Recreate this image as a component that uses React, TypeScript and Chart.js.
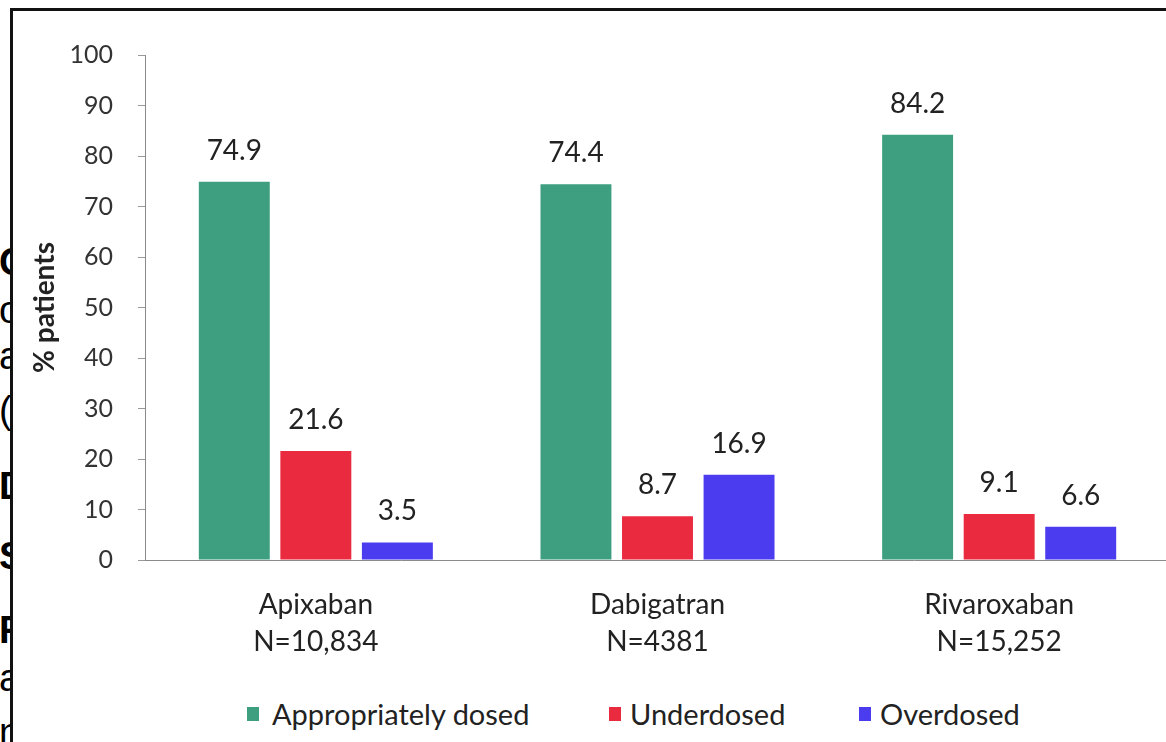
import { useEffect, useRef } from "react";
import { Chart, registerables } from "chart.js";

Chart.register(...registerables);

// Drug groups (two-line axis labels: name and cohort size)
const drugNames = ["Apixaban", "Dabigatran", "Rivaroxaban"];
const cohortSizes = ["N=10,834", "N=4381", "N=15,252"];

// Share of patients per dosing category (%)
const appropriatelyDosed = [74.9, 74.4, 84.2];
const underdosed = [21.6, 8.7, 9.1];
const overdosed = [3.5, 16.9, 6.6];

const seriesNames = ["Appropriately dosed", "Underdosed", "Overdosed"];
const seriesColors = ["#3d9f80", "#ea2a3f", "#4b3cf0"];

const yTickValues = [0, 10, 20, 30, 40, 50, 60, 70, 80, 90, 100];
const yAxisTitle = "% patients";

// Fragments of the slide text peeking out behind the chart panel
const slideLetters = [
  { ch: "C", y: 240, bold: true },
  { ch: "o", y: 288, bold: false },
  { ch: "a", y: 334, bold: false },
  { ch: "(", y: 388, bold: false },
  { ch: "D", y: 464, bold: true },
  { ch: "S", y: 534, bold: true },
  { ch: "F", y: 608, bold: true },
  { ch: "a", y: 656, bold: false },
  { ch: "n", y: 710, bold: false },
];

const FONT = "Lato, 'Open Sans', sans-serif";

// Legend item left edges (marker position) along the bottom row
const legendLefts = [247, 609, 859];

const valueLabels = {
  id: "valueLabels",
  afterDatasetsDraw(chart: any) {
    const ctx = chart.ctx;
    ctx.save();
    ctx.font = `28px ${FONT}`;
    ctx.fillStyle = "#222";
    ctx.textAlign = "center";
    ctx.textBaseline = "middle";
    chart.data.datasets.forEach((ds: any, i: number) => {
      const meta = chart.getDatasetMeta(i);
      meta.data.forEach((bar: any, j: number) => {
        ctx.fillText(Number(ds.data[j]).toFixed(1), bar.x, bar.y - 31);
      });
    });
    ctx.restore();
  },
};

export default function App() {
  const canvasRef = useRef<HTMLCanvasElement>(null);

  useEffect(() => {
    const seriesValues = [appropriatelyDosed, underdosed, overdosed];
    const chart = new Chart(canvasRef.current!, {
      type: "bar",
      data: {
        labels: drugNames.map((n, i) => [n, cohortSizes[i]]),
        datasets: seriesNames.map((name, i) => ({
          label: name,
          data: seriesValues[i],
          backgroundColor: seriesColors[i],
          borderWidth: 0,
          categoryPercentage: 0.716,
          barPercentage: 0.87,
        })),
      },
      options: {
        responsive: false,
        animation: false,
        layout: { padding: { top: 44, right: 3, bottom: 3, left: 0 } },
        plugins: {
          legend: { display: false },
          tooltip: { enabled: false },
        },
        scales: {
          x: {
            grid: { display: false, drawTicks: false },
            border: { color: "#8a8a8a", width: 1 },
            ticks: {
              font: { family: FONT, size: 28, lineHeight: 1.32 },
              color: "#222",
              padding: 26,
            },
          },
          y: {
            min: 0,
            max: 100,
            afterBuildTicks: (scale: any) => {
              scale.ticks = yTickValues.map((v) => ({ value: v }));
            },
            afterFit: (scale: any) => {
              scale.width = 132;
            },
            grid: {
              drawOnChartArea: false,
              drawTicks: true,
              tickLength: 7,
              color: "#9a9a9a",
            },
            border: { color: "#8a8a8a", width: 1 },
            ticks: {
              font: { family: FONT, size: 25 },
              color: "#333",
              padding: 25,
            },
            title: {
              display: true,
              text: yAxisTitle,
              font: { family: FONT, size: 28, weight: "bold" },
              color: "#222",
              padding: { top: 15, bottom: 0 },
            },
          },
        },
      },
      plugins: [valueLabels],
    });
    return () => chart.destroy();
  }, []);

  return (
    <div
      style={{
        position: "fixed",
        left: 0,
        top: 0,
        width: 1166,
        height: 742,
        overflow: "hidden",
        background: "#fff",
      }}
    >
      {slideLetters.map((l, i) => (
        <div
          key={i}
          style={{
            position: "absolute",
            left: -1,
            top: l.y,
            fontFamily: "'Liberation Sans', Arial, sans-serif",
            fontSize: 38,
            lineHeight: "44px",
            fontWeight: l.bold ? 700 : 400,
            color: "#000",
          }}
        >
          {l.ch}
        </div>
      ))}
      <div
        style={{
          position: "absolute",
          left: 10,
          top: 8,
          width: 1200,
          height: 800,
          borderLeft: "3px solid #111",
          borderTop: "3px solid #111",
          background: "#fff",
        }}
      />
      <div style={{ position: "absolute", left: 13, top: 11 }}>
        <canvas ref={canvasRef} width={1160} height={678} style={{ display: "block" }} />
      </div>
      {seriesNames.map((name, i) => (
        <div
          key={name}
          style={{
            position: "absolute",
            left: legendLefts[i],
            top: 696,
            display: "flex",
            alignItems: "center",
            fontFamily: FONT,
            fontSize: 29,
            lineHeight: "36px",
            color: "#222",
            whiteSpace: "nowrap",
          }}
        >
          <span
            style={{
              display: "inline-block",
              width: 12,
              height: 14,
              background: seriesColors[i],
              marginRight: i === 0 ? 13 : 9,
            }}
          />
          <span>{name}</span>
        </div>
      ))}
    </div>
  );
}
